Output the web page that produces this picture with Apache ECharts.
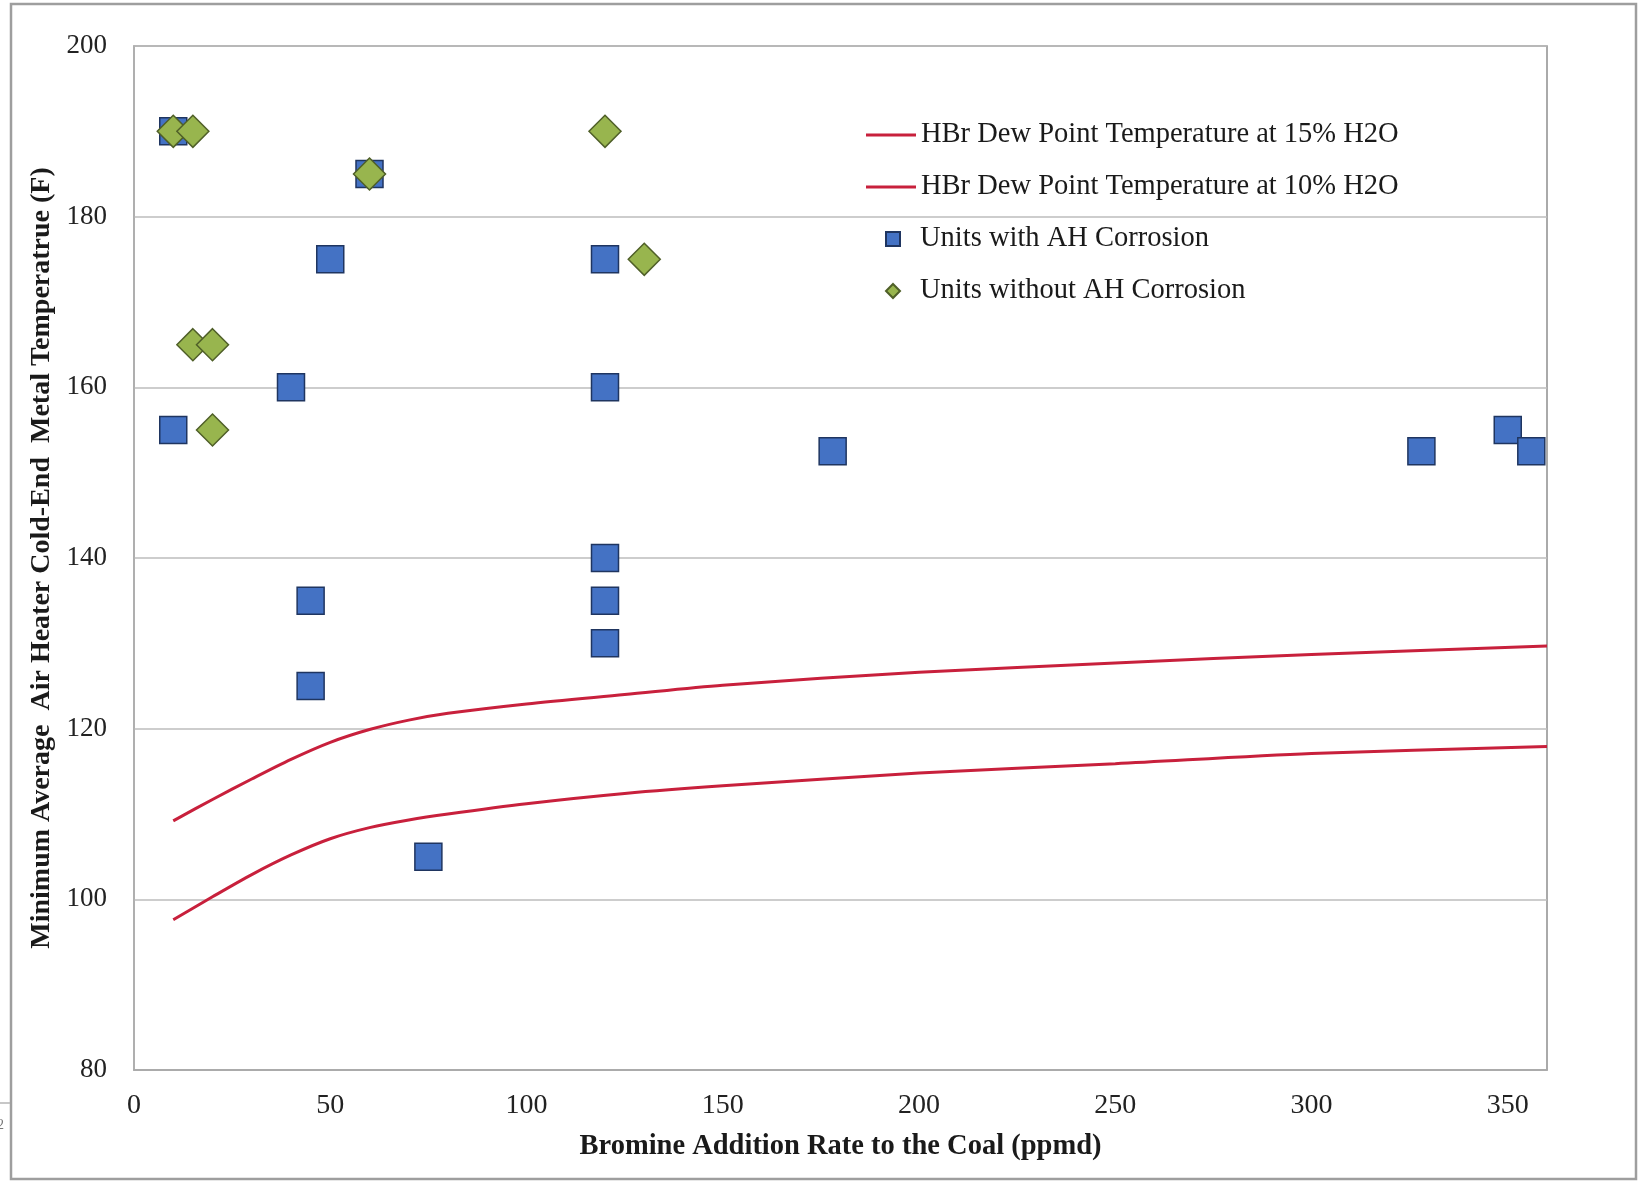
<!DOCTYPE html>
<html>
<head>
<meta charset="utf-8">
<script src="https://cdn.jsdelivr.net/npm/echarts@6/dist/echarts.min.js"></script>
<style>
html,body{margin:0;padding:0;background:#fff;}
#chart{width:1639px;height:1181px;}
</style>
</head>
<body>
<div id="chart"></div>
<script>
// ---- data ----
var xTickLabels = ['0','50','100','150','200','250','300','350'];
var yTickLabels = ['80','100','120','140','160','180','200'];
var seriesNames = [
  'HBr Dew Point Temperature at 15% H2O',
  'HBr Dew Point Temperature at 10% H2O',
  'Units with AH Corrosion',
  'Units without AH Corrosion'
];
var dew15 = [[10,109.2],[20,111.7],[30,114.1],[40,116.4],[50,118.4],[60,119.9],[70,121.0],[80,121.8],[100,122.9],[125,124.0],[150,125.1],[200,126.6],[250,127.7],[300,128.7],[360,129.7]];
var dew10 = [[10,97.6],[20,100.3],[30,102.9],[40,105.2],[50,107.1],[60,108.4],[70,109.3],[80,110.0],[100,111.2],[125,112.4],[150,113.3],[200,114.8],[250,115.9],[300,117.1],[360,117.9]];
var withCorrosion = [[10,190],[60,185],[10,155],[40,160],[50,175],[45,135],[45,125],[75,105],[120,175],[120,160],[120,140],[120,135],[120,130],[178,152.5],[328,152.5],[350,155],[356,152.5]];
var withoutCorrosion = [[10,190],[15,190],[60,185],[120,190],[130,175],[15,165],[20,165],[20,155]];

var FONT = '"Liberation Serif", "Times New Roman", serif';
var LEG_TEXT = {fontFamily: FONT, fontSize: 28.5, color: '#1a1a1a', lineHeight: 32};
var chart = echarts.init(document.getElementById('chart'));
chart.setOption({
  backgroundColor: '#ffffff',
  animation: false,
  grid: {left: 134, right: 92, top: 46, bottom: 111, show: true, borderColor: '#8f8f8f', borderWidth: 1.5, backgroundColor: 'transparent'},
  legend: [
    {
      data: [{name: seriesNames[0], icon: 'rect'}, {name: seriesNames[1], icon: 'rect'}],
      orient: 'vertical', left: 866, top: 119, padding: 0,
      itemWidth: 50, itemHeight: 3, itemGap: 20,
      textStyle: LEG_TEXT
    },
    {
      data: [{name: seriesNames[2], icon: 'rect'}, {name: seriesNames[3], icon: 'diamond'}],
      orient: 'vertical', left: 885, top: 223, padding: 0,
      itemWidth: 14, itemHeight: 14, itemGap: 20,
      textStyle: Object.assign({}, LEG_TEXT, {padding: [0, 0, 0, 15]})
    }
  ],
  xAxis: {
    type: 'value', min: 0, max: 360, interval: 50,
    name: 'Bromine Addition Rate to the Coal (ppmd)',
    nameLocation: 'middle', nameGap: 62,
    nameTextStyle: {fontFamily: FONT, fontSize: 28.5, fontWeight: 'bold', color: '#1a1a1a'},
    axisLine: {show: true, lineStyle: {color: '#a6a6a6', width: 1.5}},
    axisTick: {show: false},
    splitLine: {show: false},
    axisLabel: {fontFamily: FONT, fontSize: 28, color: '#222', margin: 22, showMaxLabel: false,
      formatter: function(v){ var i = xTickLabels.indexOf(String(v)); return i >= 0 ? xTickLabels[i] : ''; }}
  },
  yAxis: {
    type: 'value', min: 80, max: 200, interval: 20,
    name: 'Minimum Average  Air Heater Cold-End  Metal Temperatrue (F)',
    nameLocation: 'middle', nameGap: 77,
    nameTextStyle: {fontFamily: FONT, fontSize: 28, fontWeight: 'bold', color: '#1a1a1a'},
    axisLine: {show: true, lineStyle: {color: '#b0b0b0', width: 1.5}},
    axisTick: {show: false},
    splitLine: {show: true, lineStyle: {color: '#bdbdbd', width: 1.5}},
    axisLabel: {fontFamily: FONT, fontSize: 27, color: '#222', margin: 27,
      formatter: function(v){ var i = yTickLabels.indexOf(String(v)); return i >= 0 ? yTickLabels[i] : ''; }}
  },
  series: [
    {name: seriesNames[0], type: 'line', data: dew15, smooth: 0.3, symbol: 'none',
     lineStyle: {color: '#C8203C', width: 3}, itemStyle: {color: '#C8203C'}, z: 3},
    {name: seriesNames[1], type: 'line', data: dew10, smooth: 0.3, symbol: 'none',
     lineStyle: {color: '#C8203C', width: 3}, itemStyle: {color: '#C8203C'}, z: 3},
    {name: seriesNames[2], type: 'scatter', data: withCorrosion, symbol: 'rect', symbolSize: 27,
     itemStyle: {color: '#4472C4', borderColor: '#1f3560', borderWidth: 1.5, opacity: 1}, z: 4},
    {name: seriesNames[3], type: 'scatter', data: withoutCorrosion, symbol: 'diamond', symbolSize: 32,
     itemStyle: {color: '#98B54E', borderColor: '#4f5f28', borderWidth: 1.5, opacity: 1}, z: 5}
  ],
  graphic: [
    {type: 'rect', shape: {x: 11, y: 4, width: 1625, height: 1175}, style: {fill: 'none', stroke: '#9e9e9e', lineWidth: 2.5}, silent: true},
    {type: 'line', shape: {x1: 0, y1: 1103, x2: 10, y2: 1103}, style: {stroke: '#b5b5b5', lineWidth: 1.5}, silent: true},
    {type: 'text', left: -3, top: 1118, style: {text: '2', fontFamily: FONT, fontSize: 14, fill: '#777'}, silent: true}
  ]
});
</script>
</body>
</html>
